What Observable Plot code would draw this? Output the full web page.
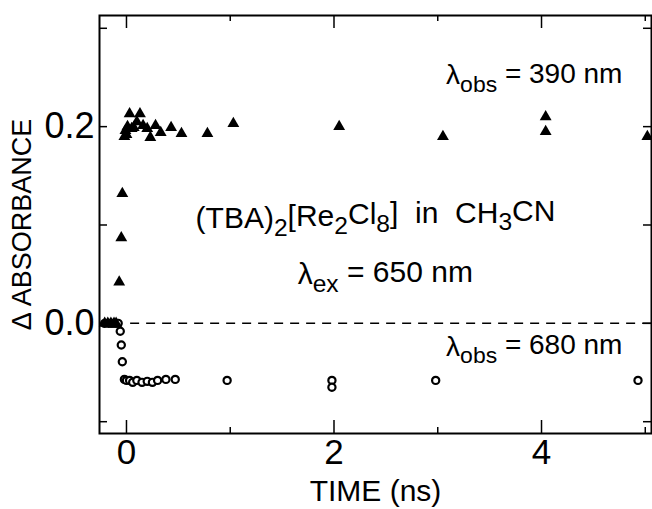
<!DOCTYPE html>
<html>
<head>
<meta charset="utf-8">
<script src="https://cdn.jsdelivr.net/npm/d3@7"></script>
<script src="https://cdn.jsdelivr.net/npm/@observablehq/plot@0.6"></script>
<style>
  html, body { margin: 0; padding: 0; background: #fff; }
  svg { display: block; }
</style>
</head>
<body>
<div id="chart"></div>
<script>
// ---- data ----
const t390 = [-0.21, -0.18, -0.15, -0.12, -0.10, -0.07, -0.05, -0.04, -0.02, -0.01, 0.0, 0.01, 0.03, 0.05, 0.07, 0.10, 0.13, 0.16, 0.20, 0.23, 0.28, 0.33, 0.43, 0.53, 0.78, 1.03, 2.05, 3.05, 4.04, 4.04, 5.02];
const a390 = [0, 0, 0, 0, 0, 0.042, 0.087, 0.132, 0.19, 0.196, 0.192, 0.2, 0.213, 0.198, 0.199, 0.205, 0.213, 0.201, 0.198, 0.189, 0.201, 0.194, 0.199, 0.193, 0.193, 0.203, 0.2, 0.19, 0.21, 0.195, 0.19];

const t680 = [-0.21, -0.17, -0.14, -0.11, -0.08, -0.06, -0.05, -0.04, -0.02, 0.0, 0.03, 0.06, 0.10, 0.15, 0.20, 0.25, 0.30, 0.38, 0.47, 0.97, 1.98, 1.98, 2.98, 4.93];
const a680 = [0, 0, 0, 0, 0, -0.008, -0.022, -0.039, -0.057, -0.058, -0.058, -0.06, -0.058, -0.06, -0.059, -0.06, -0.058, -0.057, -0.057, -0.058, -0.058, -0.065, -0.058, -0.058];

const xDomain = [-0.26, 5.06];
const yDomain = [-0.112, 0.313];
const xTickLabels = [0, 2, 4];
const xTicksMajor = [0, 2, 4];
const xTicksMinor = [1, 3, 5];
const yTickLabels = [0, 0.2];
const yTicks = [-0.1, 0, 0.1, 0.2, 0.3];

const annoText = ["λ_{obs} = 390 nm", "(TBA)_{2}[Re_{2}Cl_{8}]  in  CH_{3}CN", "λ_{ex} = 650 nm", "λ_{obs} = 680 nm"];
const annoX = [4.78, 2.40, 1.65, 4.78];
const annoY = [0.252, 0.107, 0.05, -0.024];
const annoAnchor = ["end", "middle", "start", "end"];

const xLabel = "TIME (ns)";
const yLabel = "Δ ABSORBANCE";

// ---- build ----
const s390 = t390.map((t, i) => ({t, a: a390[i]}));
const s680 = t680.map((t, i) => ({t, a: a680[i]}));
const annos = annoText.map((s, i) => ({s, x: annoX[i], y: annoY[i], anchor: annoAnchor[i]}));

const W = 652, H = 509;
const mT = 15, mB = 76, mL = 99, mR = 1;
const fw = W - mL - mR, fh = H - mT - mB;
const FONT = "'Liberation Sans', Arial, sans-serif";

const svg = Plot.plot({
  width: W, height: H,
  marginTop: mT, marginBottom: mB, marginLeft: mL, marginRight: mR,
  style: {fontFamily: FONT, background: "white", color: "black"},
  x: {domain: xDomain},
  y: {domain: yDomain},
  marks: [
    Plot.axisX({ticks: xTickLabels, tickSize: 0, tickPadding: 6, fontSize: 35, label: null, tickFormat: d3.format("d")}),
    Plot.axisY({ticks: yTickLabels, tickSize: 0, tickPadding: 5, fontSize: 36, label: null, tickFormat: d3.format(".1f")}),
    // inward ticks
    Plot.ruleX(xTicksMajor, {x: d => d, insetTop: fh - 13, strokeWidth: 1.5}),
    Plot.ruleX(xTicksMinor, {x: d => d, insetTop: fh - 6, strokeWidth: 1.5}),
    Plot.ruleX(xTicksMajor, {x: d => d, insetBottom: fh - 13, strokeWidth: 1.5}),
    Plot.ruleX(xTicksMinor, {x: d => d, insetBottom: fh - 6, strokeWidth: 1.5}),
    Plot.ruleY(yTicks, {y: d => d, insetRight: fw - 8, strokeWidth: 1.5}),
    Plot.ruleY(yTicks, {y: d => d, insetLeft: fw - 8, strokeWidth: 1.5}),
    Plot.frame({stroke: "black", strokeWidth: 2}),
    Plot.ruleY([0], {x1: 0.04, x2: xDomain[1], stroke: "black", strokeWidth: 1.5, strokeDasharray: "9,7"}),
    Plot.dot(s680, {x: "t", y: "a", r: 3.6, stroke: "black", strokeWidth: 2.2, fill: "white"}),
    Plot.dot(s390, {x: "t", y: "a", symbol: "triangle", r: 4.4, fill: "black", stroke: "none"}),
    Plot.text(annos.filter(d => d.anchor === "end"), {x: "x", y: "y", text: "s", fontSize: 28, fill: "black", textAnchor: "end"}),
    Plot.text(annos.filter(d => d.anchor === "middle"), {x: "x", y: "y", text: "s", fontSize: 30, fill: "black", textAnchor: "middle"}),
    Plot.text(annos.filter(d => d.anchor === "start"), {x: "x", y: "y", text: "s", fontSize: 30, fill: "black", textAnchor: "start"}),
    Plot.text([xLabel], {x: () => d3.mean(xDomain), text: d => d, frameAnchor: "bottom", lineAnchor: "middle", textAnchor: "middle", dy: 58, fontSize: 30, fill: "black"}),
    Plot.text([yLabel], {y: () => d3.mean(yDomain), text: d => d, frameAnchor: "left", lineAnchor: "middle", textAnchor: "middle", dx: -77, rotate: -90, fontSize: 27, fill: "black"})
  ]
});

// subscripts: rebuild text with tspans
d3.select(svg).selectAll("text").each(function () {
  const s = this.textContent;
  if (!s.includes("_{")) return;
  const el = d3.select(this).attr("xml:space", "preserve");
  el.text(null);
  const parts = s.split(/(_\{[^}]*\})/);
  let shifted = false;
  for (const p of parts) {
    if (!p) continue;
    if (p.startsWith("_{")) {
      el.append("tspan").attr("dy", "0.32em").attr("font-size", "82%").text(p.slice(2, -1));
      shifted = true;
    } else {
      const ts = el.append("tspan").text(p);
      if (shifted) { ts.attr("dy", "-0.32em"); shifted = false; }
    }
  }
});

document.getElementById("chart").appendChild(svg);
</script>
</body>
</html>
